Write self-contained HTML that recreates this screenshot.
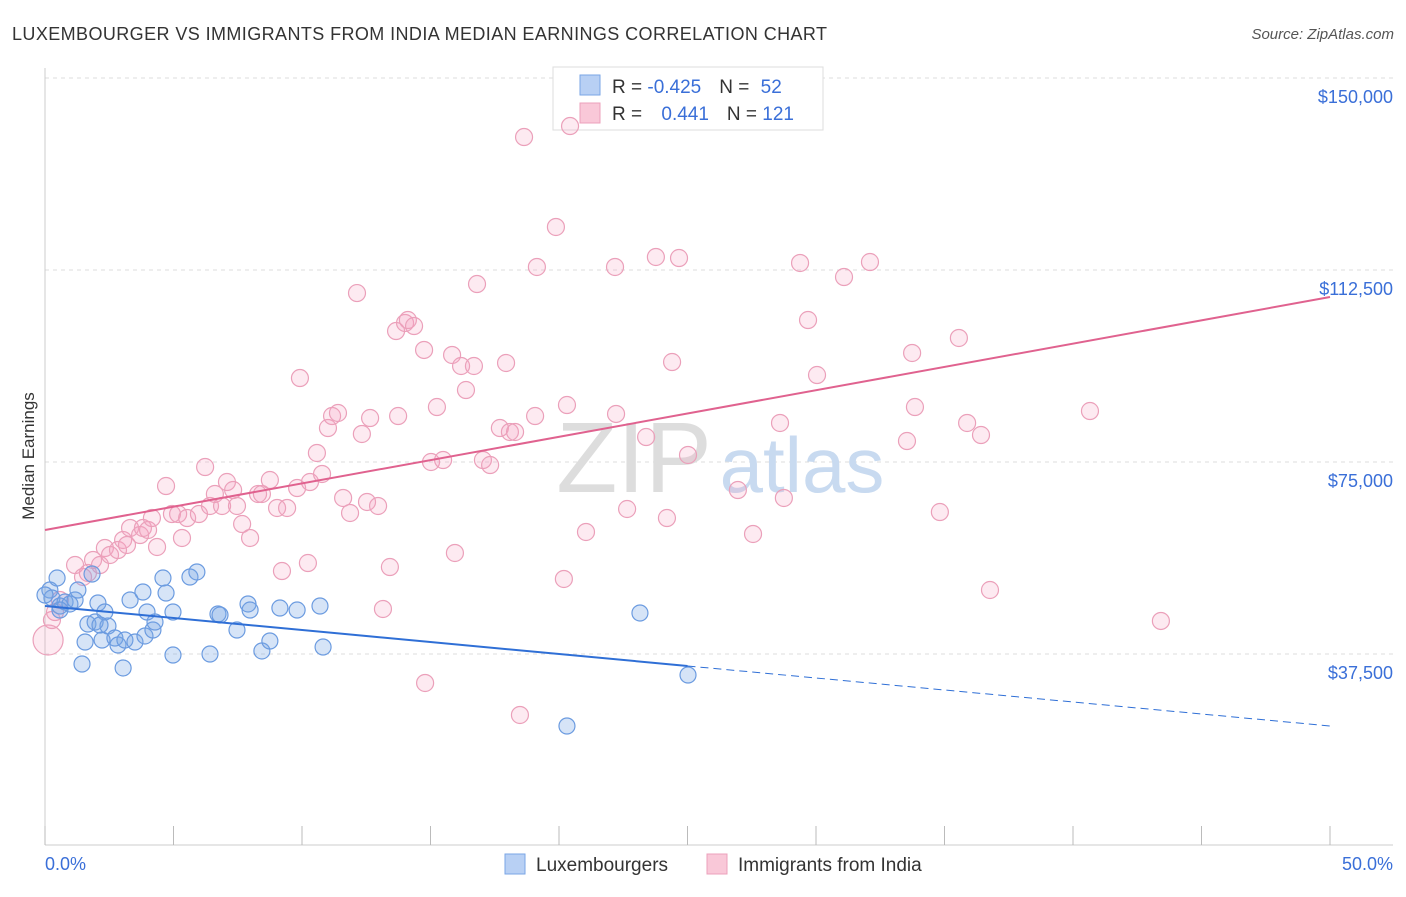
<!DOCTYPE html>
<html><head><meta charset="utf-8"><style>
body{margin:0;background:#fff;font-family:"Liberation Sans",sans-serif;}
svg text{font-family:"Liberation Sans",sans-serif;}
</style></head><body>
<svg id="chart" width="1406" height="892">
<text x="12" y="40" font-size="18" fill="#333" textLength="815" lengthAdjust="spacing">LUXEMBOURGER VS IMMIGRANTS FROM INDIA MEDIAN EARNINGS CORRELATION CHART</text>
<text x="1394" y="39" font-size="15" fill="#555" font-style="italic" text-anchor="end">Source: ZipAtlas.com</text>
<text x="34" y="456" font-size="17" fill="#333" text-anchor="middle" transform="rotate(-90 34 456)">Median Earnings</text>
<g id="grid"></g>
<text x="634" y="492" font-size="100" fill="#ddd" font-family="Liberation Serif" text-anchor="middle">ZIP</text>
<text x="802" y="492" font-size="78" fill="#c8daf0" text-anchor="middle">atlas</text>
<g>
<rect x="553" y="67" width="270" height="63" fill="#fff" stroke="#ddd"/>
<rect x="580" y="75" width="20" height="20" fill="#b8d0f4" stroke="#7aa6e6"/>
<rect x="580" y="103" width="20" height="20" fill="#f9c8d8" stroke="#eca0bb"/>
<text x="612" y="93" font-size="19" fill="#333">R = <tspan fill="#3a6fd8">-0.425</tspan><tspan dx="18">N = </tspan><tspan fill="#3a6fd8" dx="6">52</tspan></text>
<text x="612" y="120" font-size="19" fill="#333">R = <tspan fill="#3a6fd8" dx="14">0.441</tspan><tspan dx="18">N = </tspan><tspan fill="#3a6fd8">121</tspan></text>
</g>
<g id="pts"></g>
<g id="trends"></g>
<text x="45" y="870" font-size="18" fill="#3a6fd8">0.0%</text>
<text x="1393" y="870" font-size="18" fill="#3a6fd8" text-anchor="end">50.0%</text>
<g>
<rect x="505" y="854" width="20" height="20" fill="#b8d0f4" stroke="#7aa6e6"/>
<text x="536" y="871" font-size="19" fill="#333">Luxembourgers</text>
<rect x="707" y="854" width="20" height="20" fill="#f9c8d8" stroke="#eca0bb"/>
<text x="738" y="871" font-size="19" fill="#333">Immigrants from India</text>
</g>
</svg>
<script>
const yTicks=[37500,75000,112500,150000];
const yTickLabels=["$37,500","$75,000","$112,500","$150,000"];
const xTicks=[0,5,10,15,20,25,30,35,40,45,50];
const bluePct=[0.19,0.47,0.27,0.58,0.78,0.97,1.17,1.28,1.83,2.06,2.33,1.67,1.95,1.56,1.44,2.22,2.45,2.72,2.84,3.11,3.04,3.31,3.50,3.81,3.97,3.89,4.20,4.28,4.59,4.71,4.98,4.98,5.64,5.91,6.42,6.73,6.81,7.47,7.90,7.98,8.44,8.75,9.14,9.81,10.70,10.82,23.15,25.02,20.31,0.58,2.14,0];
const blueVal=[50000,52340,48440,46875,47660,47270,48050,50000,53125,47460,45700,43360,43750,39840,35550,40230,42970,40625,39260,40230,34770,48050,39840,49610,45700,41020,42190,43750,52340,49410,45700,37300,52540,53520,37500,45310,45120,42190,47270,46090,38090,40040,46480,46090,46875,38870,45510,33400,23440,46090,43160,49020];
const pinkPct=[0.12,0.27,0.39,0.58,1.17,1.48,1.67,1.87,2.14,2.33,2.53,2.84,3.04,3.19,3.31,3.70,3.81,4.01,4.16,4.36,4.71,4.94,5.18,5.33,5.53,5.99,6.23,6.42,6.61,6.89,7.08,7.32,7.47,7.67,7.98,8.29,8.44,8.75,9.03,9.22,9.42,9.81,9.92,10.23,10.31,10.58,10.78,11.01,11.17,11.40,11.60,11.87,12.14,12.33,12.53,12.65,12.96,13.42,13.15,13.74,13.66,14.01,14.12,14.36,14.79,14.75,15.25,15.02,15.49,15.84,15.95,16.19,16.38,16.69,16.81,17.04,17.32,17.70,18.09,18.29,17.94,18.48,18.64,19.07,19.14,19.88,20.19,20.31,20.43,21.05,22.18,22.22,22.65,23.39,23.77,24.20,24.40,24.67,25.02,26.96,27.55,28.60,28.75,29.38,29.69,30.04,31.09,32.10,33.54,33.74,33.85,34.82,35.56,35.88,36.42,36.77,40.66,43.42];
const pinkVal=[40230,44140,45700,48050,54880,52540,53320,55860,54880,58200,56840,57810,59770,58790,62110,60740,62110,61720,64060,58400,70310,64840,64840,60160,64060,64840,74020,66410,68750,66410,71090,69530,66410,62890,60160,68750,68750,71480,66020,53710,66020,69920,91400,55270,71090,76760,72660,81640,83980,84570,67970,65040,108000,80470,67190,83590,66410,54490,46290,83980,100580,102150,102730,101560,31840,96880,85740,75000,75390,95900,57230,93750,89060,93750,109760,75390,74410,81640,80860,80860,94340,25590,138470,83980,113090,120900,52150,86130,140620,61330,113090,84380,65820,79880,115040,64060,94530,114840,76370,69530,60940,82620,67970,113870,102730,91990,111130,114060,79100,96290,85740,65230,99220,82620,80270,50000,84960,43950];
const blueTrend=[46875,35160,23440]; // at 0%, 25%, 50%
const pinkTrend=[61720,107220]; // at 0%, 50%

const NS="http://www.w3.org/2000/svg";
const X=p=>45+p*(1330-45)/50;
const Y=v=>654-(v-37500)*192/37500;
function mk(tag,attrs,parent){const e=document.createElementNS(NS,tag);for(const k in attrs)e.setAttribute(k,attrs[k]);parent.appendChild(e);return e;}
const grid=document.getElementById('grid');
yTicks.forEach((t,i)=>{
 const l=mk('line',{x1:45,x2:1393,y1:Y(t),y2:Y(t),stroke:'#ddd','stroke-dasharray':'4 4'},grid);
 
 
 const tx=mk('text',{x:1393,y:Y(t)+25,'font-size':18,fill:'#3a6fd8','text-anchor':'end'},grid);
 tx.textContent=yTickLabels[i];
 
 
});
const ax=mk('line',{x1:45,x2:45,y1:68,y2:845,stroke:'#ccc'},grid);


const bx=mk('line',{x1:45,x2:1393,y1:845,y2:845,stroke:'#ccc'},grid);


xTicks.forEach(t=>{
 const l=mk('line',{x1:X(t),x2:X(t),y1:826,y2:845,stroke:'#bbb'},grid);
 
 
});
const pts=document.getElementById('pts');
pinkPct.forEach((p,i)=>{
 const r=i===0?15:8.5;
 const c=mk('circle',{cx:X(p),cy:Y(pinkVal[i]),r:r,fill:'rgba(244,160,190,0.22)',stroke:'#eba0ba','stroke-width':1.2},pts);
 
 
});
bluePct.forEach((p,i)=>{
 const c=mk('circle',{cx:X(p),cy:Y(blueVal[i]),r:8,fill:'rgba(120,165,230,0.3)',stroke:'#6b9be0','stroke-width':1.2},pts);
 
 
});
const tr=document.getElementById('trends');
const b1=mk('line',{x1:X(0),y1:Y(blueTrend[0]),x2:X(25),y2:Y(blueTrend[1]),stroke:'#2f6fd6','stroke-width':2},tr);


const b2=mk('line',{x1:X(25),y1:Y(blueTrend[1]),x2:X(50),y2:Y(blueTrend[2]),stroke:'#2f6fd6','stroke-width':1,'stroke-dasharray':'8 5'},tr);


const p1=mk('line',{x1:X(0),y1:Y(pinkTrend[0]),x2:X(50),y2:Y(pinkTrend[1]),stroke:'#e0628f','stroke-width':2},tr);


</script>
</body></html>
